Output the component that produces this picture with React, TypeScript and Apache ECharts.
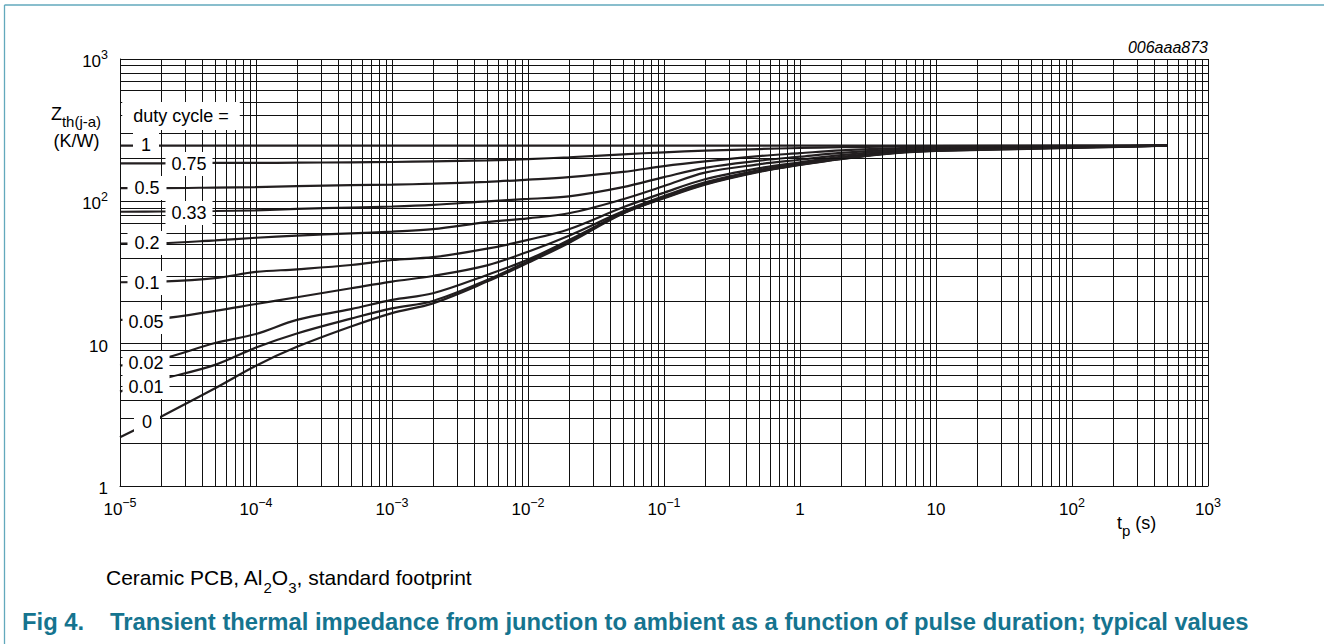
import React, { useEffect, useRef } from 'react';
import * as echarts from 'echarts';

const FONT = '"Liberation Sans", Arial, Helvetica, sans-serif';

// pulse duration tp (s)
const pulseDuration = [1e-5, 2e-5, 5e-5, 1e-4, 2e-4, 5e-4, 1e-3, 2e-3, 5e-3, 1e-2, 2e-2, 5e-2, 0.1, 0.2, 0.5, 1, 2, 5, 10, 100, 500];

// duty cycle values
const dutyCycles = ['1', '0.75', '0.5', '0.33', '0.2', '0.1', '0.05', '0.02', '0.01', '0'];

// Zth(j-a) in K/W for each duty cycle
const zthDuty1 = [246, 246, 246, 246, 246, 246, 246, 246, 246, 246, 246, 246, 246, 246, 246, 246, 246, 246, 246, 246, 246];
const zthDuty075 = [185, 185, 186, 186, 187, 188, 189, 191, 194, 198, 204, 214, 221, 227, 233, 237, 240, 243, 244, 246, 246];
const zthDuty05 = [124, 124, 125, 126, 128, 130, 131, 133, 137, 142, 148, 161, 177, 191, 208, 218, 228, 236, 240, 244, 246];
const zthDuty033 = [84.5, 84.8, 85.5, 86.5, 88.5, 90.5, 92, 94.5, 100, 104, 108.5, 126, 148, 172, 193, 206, 219, 231, 236, 243, 246];
const zthDuty02 = [50.5, 50.8, 53.2, 55.5, 57.5, 59.5, 61.2, 63.7, 71.5, 76, 82.5, 103.5, 128, 159, 182, 196, 211, 226, 232, 242, 246];
const zthDuty01 = [27, 27.3, 28.9, 31.9, 33.3, 35.7, 38.7, 40.5, 46.5, 53.6, 63.7, 90.8, 115, 143, 171, 188, 205, 223, 230, 241, 246];
const zthDuty005 = [14.7, 15.0, 17, 19, 21.2, 24.5, 27.3, 29.9, 35.5, 44.3, 57.4, 85, 109, 136, 166, 185, 202, 221, 229, 240, 246];
const zthDuty002 = [7.0, 7.8, 10.1, 11.7, 14.7, 17.5, 20.3, 22.6, 30.4, 39, 53.5, 83, 107, 133, 163, 182, 200, 220, 228, 239, 246];
const zthDuty001 = [4.6, 5.6, 7.1, 9.4, 11.8, 15.0, 17.7, 19.95, 28, 38, 52.5, 82.5, 106, 132, 162, 181, 199, 219, 227, 238, 246];
const zthDuty0 = [2.2, 3.07, 4.86, 7.0, 9.5, 13.2, 16.4, 19.2, 27.3, 37, 51, 82, 105, 131, 161, 180, 198, 218, 226, 237, 246];

const zthCurves = [zthDuty1, zthDuty075, zthDuty05, zthDuty033, zthDuty02, zthDuty01, zthDuty005, zthDuty002, zthDuty001, zthDuty0];

// axis tick labels
const xTickValues = [1e-5, 1e-4, 1e-3, 1e-2, 1e-1, 1, 10, 100, 1000];
const yTickValues = [1, 10, 100, 1000];

// log grid lines (1..9 per decade)
const gridValues = (fromExp: number, toExp: number) => {
  const out: number[] = [];
  for (let e = fromExp; e < toExp; e++) {
    for (let m = 1; m <= 9; m++) out.push(m * Math.pow(10, e));
  }
  out.push(Math.pow(10, toExp));
  return out;
};
const xGridValues = gridValues(-5, 3);
const yGridValues = gridValues(0, 3);
const X_MIN = 1e-5;
const X_MAX = 1000;
const Y_MIN = 1;
const Y_MAX = 1000;

// label placement (pixels) for the duty-cycle annotations
const labelLayout = [
  { x: 146, y: 145, pad: [2, 8] },
  { x: 189, y: 164, pad: [2, 6] },
  { x: 147, y: 188, pad: [2, 7] },
  { x: 189, y: 213, pad: [2, 6] },
  { x: 147, y: 243, pad: [2, 7] },
  { x: 147, y: 283, pad: [2, 7] },
  { x: 146, y: 322, pad: [2, 6] },
  { x: 146, y: 363, pad: [2, 6] },
  { x: 146, y: 387, pad: [2, 6] },
  { x: 147, y: 422, pad: [2, 8] },
];

const expLabel = (v: number) => {
  const e = Math.round(Math.log10(v));
  if (e === 0) return '{n|1}';
  if (e === 1) return '{n|10}';
  const sup = e < 0 ? '\u2212' + String(-e) : String(e);
  return '{n|10}{s|' + sup + '}';
};

const tickRich = {
  n: { fontSize: 17, lineHeight: 22, verticalAlign: 'bottom', fontFamily: FONT, color: '#000' },
  s: { fontSize: 12.5, lineHeight: 12, verticalAlign: 'top', fontFamily: FONT, color: '#000' },
};

const TEAL = '#15748f';

function buildOption() {
  const curveSeries = dutyCycles.map((d, i) => ({
    type: 'line',
    name: 'duty cycle ' + d,
    data: pulseDuration.map((t, j) => [t, zthCurves[i][j]]),
    symbol: 'none',
    showSymbol: false,
    smooth: 0.35,
    silent: true,
    z: 3,
    lineStyle: { color: '#231f20', width: 2.2 },
  }));

  const gridSeries = {
    type: 'line',
    name: 'grid',
    data: [[1e-5, 1]],
    symbol: 'none',
    showSymbol: false,
    silent: true,
    z: 1,
    lineStyle: { width: 0 },
    markLine: {
      silent: true,
      animation: false,
      precision: 12,
      symbol: ['none', 'none'],
      label: { show: false },
      emphasis: { disabled: true },
      lineStyle: { color: '#111', width: 1, type: 'solid' },
      data: [
        ...xGridValues.map((v) => [{ coord: [v, Y_MIN] }, { coord: [v, Y_MAX] }]),
        ...yGridValues.map((v) => [{ coord: [X_MIN, v] }, { coord: [X_MAX, v] }]),
      ],
    },
  };

  const labelText = (text: string, x: number, y: number, pad: number[]) => ({
    type: 'text',
    x,
    y,
    z: 100,
    silent: true,
    style: {
      text,
      fontSize: 18,
      fontFamily: FONT,
      fill: '#000',
      align: 'center',
      textAlign: 'center',
      verticalAlign: 'middle',
      textVerticalAlign: 'middle',
      lineHeight: 20,
      backgroundColor: '#fff',
      padding: pad,
    },
  });

  const graphics: any[] = [
    // frame lines
    { type: 'line', silent: true, z: 50, shape: { x1: 4.5, y1: 5, x2: 4.5, y2: 644 }, style: { stroke: '#62a9bc', lineWidth: 1.3 } },
    { type: 'line', silent: true, z: 50, shape: { x1: 4.5, y1: 5, x2: 1324, y2: 5 }, style: { stroke: '#62a9bc', lineWidth: 1.3 } },
    labelText('duty cycle =', 181, 116, [4, 11]),
    ...dutyCycles.map((d, i) => labelText(d, labelLayout[i].x, labelLayout[i].y, labelLayout[i].pad)),
    // y axis name
    {
      type: 'text', x: 76, y: 105, z: 100, silent: true,
      style: {
        text: '{z|Z}{sub|th(j-a)}',
        align: 'center', textAlign: 'center', verticalAlign: 'top', textVerticalAlign: 'top',
        fill: '#000',
        rich: {
          z: { fontSize: 18, lineHeight: 24, verticalAlign: 'top', fontFamily: FONT, fill: '#000', color: '#000' },
          sub: { fontSize: 15, lineHeight: 15, verticalAlign: 'bottom', fontFamily: FONT, fill: '#000', color: '#000' },
        },
      },
    },
    {
      type: 'text', x: 76.5, y: 141, z: 100, silent: true,
      style: { text: '(K/W)', fontSize: 18, fontFamily: FONT, fill: '#000', align: 'center', textAlign: 'center', verticalAlign: 'middle', textVerticalAlign: 'middle' },
    },
    // x axis name
    {
      type: 'text', x: 1117, y: 514, z: 100, silent: true,
      style: {
        text: '{m|t}{sub|p}{m| (s)}',
        align: 'left', textAlign: 'left', verticalAlign: 'top', textVerticalAlign: 'top',
        fill: '#000',
        rich: {
          m: { fontSize: 18, lineHeight: 24, verticalAlign: 'top', fontFamily: FONT, fill: '#000', color: '#000' },
          sub: { fontSize: 15, lineHeight: 16, verticalAlign: 'bottom', fontFamily: FONT, fill: '#000', color: '#000' },
        },
      },
    },
    // figure code
    {
      type: 'text', x: 1208, y: 47, z: 100, silent: true,
      style: { text: '006aaa873', fontSize: 16, fontStyle: 'italic', fontFamily: FONT, fill: '#000', align: 'right', textAlign: 'right', verticalAlign: 'middle', textVerticalAlign: 'middle' },
    },
    // caption
    {
      type: 'text', x: 106, y: 566.5, z: 100, silent: true,
      style: {
        text: '{c|Ceramic PCB, Al}{cs|2}{c|O}{cs|3}{c|, standard footprint}',
        align: 'left', textAlign: 'left', verticalAlign: 'top', textVerticalAlign: 'top',
        fill: '#000',
        rich: {
          c: { fontSize: 21, lineHeight: 28, verticalAlign: 'top', fontFamily: FONT, fill: '#000', color: '#000' },
          cs: { fontSize: 15, lineHeight: 17, verticalAlign: 'bottom', fontFamily: FONT, fill: '#000', color: '#000' },
        },
      },
    },
    // title
    {
      type: 'text', x: 22, y: 621.5, z: 100, silent: true,
      style: { text: 'Fig 4.', fontSize: 23.8, fontWeight: 'bold', fontFamily: FONT, fill: TEAL, align: 'left', textAlign: 'left', verticalAlign: 'middle', textVerticalAlign: 'middle' },
    },
    {
      type: 'text', x: 110, y: 621.5, z: 100, silent: true,
      style: { text: 'Transient thermal impedance from junction to ambient as a function of pulse duration; typical values', fontSize: 23.8, fontWeight: 'bold', fontFamily: FONT, fill: TEAL, align: 'left', textAlign: 'left', verticalAlign: 'middle', textVerticalAlign: 'middle' },
    },
  ];

  return {
    animation: false,
    backgroundColor: '#fff',
    textStyle: { fontFamily: FONT },
    grid: { left: 120, top: 59, width: 1088, height: 427, containLabel: false, outerBoundsMode: 'none' },
    xAxis: {
      type: 'log',
      logBase: 10,
      min: X_MIN,
      max: X_MAX,
      axisLine: { show: true, lineStyle: { color: '#111', width: 1 } },
      axisTick: { show: false },
      splitLine: { show: false },
      minorSplitLine: { show: false },
      axisLabel: {
        customValues: xTickValues,
        formatter: expLabel,
        margin: 10,
        hideOverlap: false,
        showMinLabel: true,
        showMaxLabel: true,
        rich: tickRich,
      },
    },
    yAxis: {
      type: 'log',
      logBase: 10,
      min: Y_MIN,
      max: Y_MAX,
      axisLine: { show: true, lineStyle: { color: '#111', width: 1 } },
      axisTick: { show: false },
      splitLine: { show: false },
      minorSplitLine: { show: false },
      axisLabel: {
        customValues: yTickValues,
        formatter: expLabel,
        margin: 12,
        hideOverlap: false,
        showMinLabel: true,
        showMaxLabel: true,
        rich: tickRich,
      },
    },
    series: [gridSeries, ...curveSeries],
    graphic: graphics,
  };
}

export default function App() {
  const ref = useRef<HTMLDivElement>(null);
  useEffect(() => {
    if (!ref.current) return;
    const chart = echarts.init(ref.current, undefined, { renderer: 'svg' });
    chart.setOption(buildOption() as any);
    return () => {
      chart.dispose();
    };
  }, []);
  return (
    <div
      ref={ref}
      style={{ position: 'fixed', left: 0, top: 0, width: 1324, height: 644, background: '#fff' }}
    />
  );
}
